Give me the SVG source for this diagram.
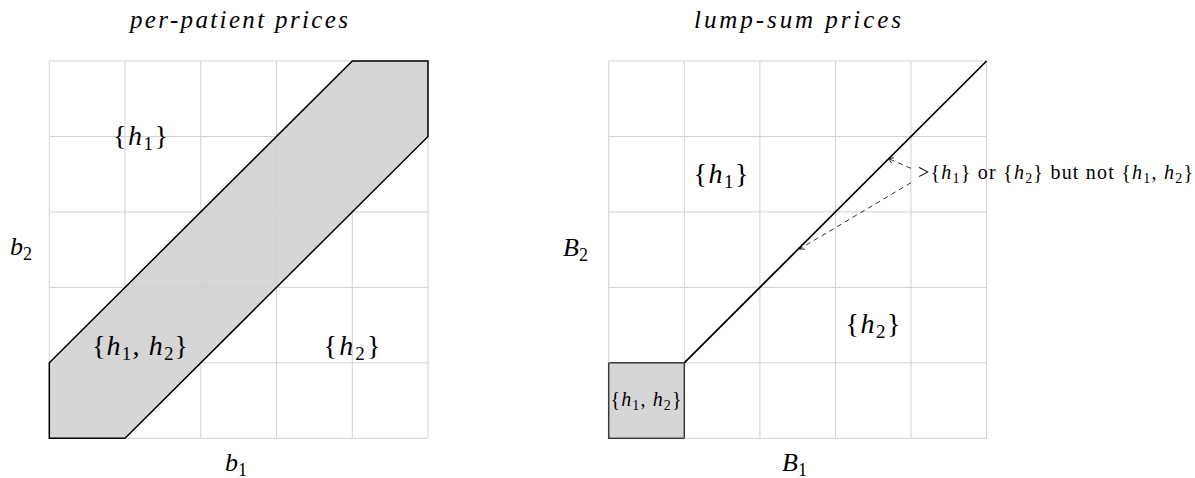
<svg xmlns="http://www.w3.org/2000/svg" width="1195" height="478" viewBox="0 0 1195 478">
<style>
.grid{stroke:#d2d2d2;stroke-width:1;fill:none}
.shade{fill:#d6d6d6;stroke:none}
.edge{fill:none;stroke:#000;stroke-width:1.5;stroke-linejoin:miter}
.box{fill:#d6d6d6;stroke:#3a3a3a;stroke-width:1.5}
.t{font-family:'Liberation Serif','Times New Roman',Times,serif;fill:#000}
.it{font-style:italic}
.lab{font-size:28px}
.sm{font-size:20px}
.ttl{font-size:25px;font-style:italic}
.dash{stroke:#000;stroke-width:0.8;stroke-dasharray:5 4;fill:none;marker-end:url(#tip)}
</style>
<defs>
<marker id="tip" markerUnits="userSpaceOnUse" viewBox="-6 -4 7 8" refX="0" refY="0" markerWidth="7" markerHeight="8" orient="auto">
<path d="M-4.5,-3 Q-1.5,-0.8 0,0 Q-1.5,0.8 -4.5,3" fill="none" stroke="#000" stroke-width="0.8"/>
</marker>
</defs>

<g id="left-panel">
  <path class="shade" d="M49.3,438.3 L125,438.3 L428,136.5 L428,61 L352.3,61 L49.3,362.8 Z"/>
  <path class="grid" d="M49.3,61V438.3 M125,61V438.3 M200.8,61V438.3 M276.5,61V438.3 M352.3,61V438.3 M428,61V438.3 M49.3,61H428 M49.3,136.5H428 M49.3,211.9H428 M49.3,287.4H428 M49.3,362.8H428 M49.3,438.3H428"/>
  <path class="edge" d="M49.3,438.3 L125,438.3 L428,136.5 L428,61 L352.3,61 L49.3,362.8 Z"/>
  <text class="t ttl" x="130" y="28" textLength="218" lengthAdjust="spacing">per-patient prices</text>
  <g id="label-b2"><text class="t" x="10" y="255" font-size="26"><tspan class="it">b</tspan><tspan font-size="18" dy="5">2</tspan></text></g>
  <g id="label-b1"><text class="t" x="225" y="471" font-size="26"><tspan class="it">b</tspan><tspan font-size="18" dy="5">1</tspan></text></g>
  <g id="region-h1-left"><text class="t lab" x="140.5" y="145" text-anchor="middle" textLength="55" lengthAdjust="spacing">{<tspan class="it">h</tspan><tspan font-size="19" dy="5">1</tspan><tspan dy="-5">}</tspan></text></g>
  <g id="region-h1h2-left"><text class="t lab" x="140" y="355" text-anchor="middle" textLength="96" lengthAdjust="spacing">{<tspan class="it">h</tspan><tspan font-size="19" dy="5">1</tspan><tspan dy="-5">, </tspan><tspan class="it">h</tspan><tspan font-size="19" dy="5">2</tspan><tspan dy="-5">}</tspan></text></g>
  <g id="region-h2-left"><text class="t lab" x="352" y="355" text-anchor="middle" textLength="57" lengthAdjust="spacing">{<tspan class="it">h</tspan><tspan font-size="19" dy="5">2</tspan><tspan dy="-5">}</tspan></text></g>
</g>

<g id="right-panel">
  <rect class="box" x="608.7" y="362.8" width="75.6" height="75.5"/>
  <path class="grid" d="M608.7,61V362.8 M684.3,61V362.8 M759.9,61V438.3 M835.5,61V438.3 M911,61V438.3 M986.6,61V438.3 M608.7,61H986.6 M608.7,136.5H986.6 M608.7,211.9H986.6 M608.7,287.4H986.6 M684.3,362.8H986.6 M684.3,438.3H986.6"/>
  <line x1="684.3" y1="362.8" x2="986.6" y2="61" stroke="#000" stroke-width="1.7"/>
  <text class="t ttl" x="694" y="28" textLength="207" lengthAdjust="spacing">lump-sum prices</text>
  <g id="label-B2"><text class="t" x="563" y="255.5" font-size="26"><tspan class="it">B</tspan><tspan font-size="18" dy="5">2</tspan></text></g>
  <g id="label-B1"><text class="t" x="782" y="471" font-size="26"><tspan class="it">B</tspan><tspan font-size="18" dy="5">1</tspan></text></g>
  <g id="region-h1-right"><text class="t lab" x="721" y="183" text-anchor="middle" textLength="55" lengthAdjust="spacing">{<tspan class="it">h</tspan><tspan font-size="19" dy="5">1</tspan><tspan dy="-5">}</tspan></text></g>
  <g id="region-h2-right"><text class="t lab" x="873" y="333" text-anchor="middle" textLength="55" lengthAdjust="spacing">{<tspan class="it">h</tspan><tspan font-size="19" dy="5">2</tspan><tspan dy="-5">}</tspan></text></g>
  <g id="region-h1h2-right"><text class="t sm" x="646" y="406" text-anchor="middle" textLength="71" lengthAdjust="spacing">{<tspan class="it">h</tspan><tspan font-size="14" dy="4">1</tspan><tspan dy="-4">, </tspan><tspan class="it">h</tspan><tspan font-size="14" dy="4">2</tspan><tspan dy="-4">}</tspan></text></g>
  <g id="annotation"><text class="t sm" x="918" y="179" textLength="275" lengthAdjust="spacing">&gt;{<tspan class="it">h</tspan><tspan font-size="14" dy="4">1</tspan><tspan dy="-4">} or {</tspan><tspan class="it">h</tspan><tspan font-size="14" dy="4">2</tspan><tspan dy="-4">} but not {</tspan><tspan class="it">h</tspan><tspan font-size="14" dy="4">1</tspan><tspan dy="-4">, </tspan><tspan class="it">h</tspan><tspan font-size="14" dy="4">2</tspan><tspan dy="-4">}</tspan></text></g>
</g>

<g id="connectors">
  <path class="dash" d="M911,168.3 L888.6,158.6"/>
  <path class="dash" d="M911,182.7 L799.5,249"/>
</g>
</svg>
